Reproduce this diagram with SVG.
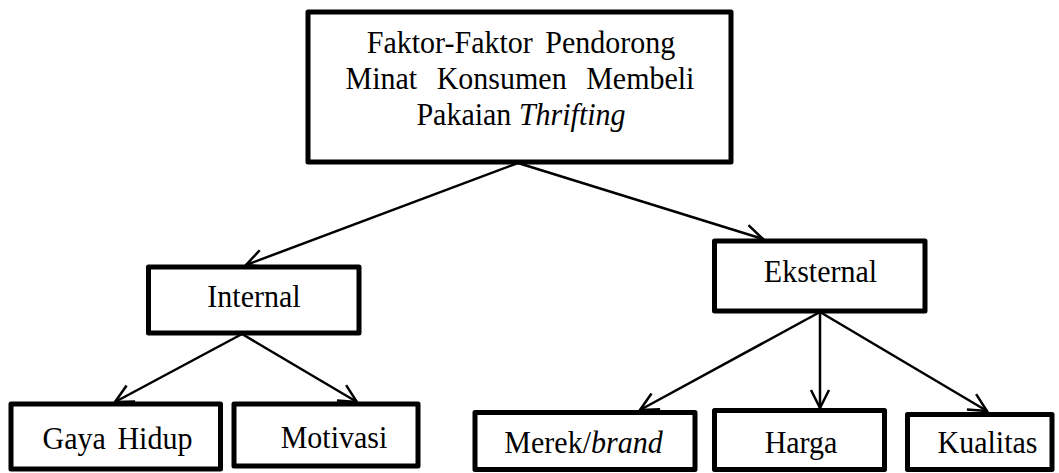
<svg xmlns="http://www.w3.org/2000/svg" width="1059" height="473" viewBox="0 0 1059 473">
  <style>
    .box { fill: #ffffff; stroke: #000000; stroke-width: 5; stroke-linejoin: round; }
    text { font-family: 'Liberation Serif', 'Times New Roman', serif; font-size: 30px; fill: #000000; text-anchor: middle; }
    .it { font-style: italic; }
    .con { fill: none; stroke: #000000; stroke-width: 2.5; marker-end: url(#arr); }
  </style>
  <defs>
    <marker id="arr" markerUnits="userSpaceOnUse" viewBox="-21 -11 23 22" markerWidth="23" markerHeight="22" refX="0" refY="0" orient="auto">
      <path d="M-18,-9 L0,0 L-18,9" fill="none" stroke="#000000" stroke-width="2.5" stroke-linejoin="miter"/>
    </marker>
  </defs>
  <rect width="1059" height="473" fill="#ffffff"/>

  <g id="connectors">
    <line class="con" x1="518" y1="163" x2="246" y2="265"/>
    <line class="con" x1="518" y1="163" x2="763" y2="239"/>
    <line class="con" x1="242" y1="334" x2="115" y2="402"/>
    <line class="con" x1="242" y1="334" x2="357" y2="402"/>
    <line class="con" x1="820" y1="312" x2="640" y2="410"/>
    <line class="con" x1="820" y1="312" x2="820" y2="408"/>
    <line class="con" x1="820" y1="312" x2="987" y2="411"/>
  </g>

  <g id="node-root">
    <rect class="box" x="308" y="12" width="423" height="150"/>
    <text transform="translate(521,53) scale(1,1.08)" word-spacing="5">Faktor-Faktor Pendorong</text>
    <text transform="translate(520,89) scale(1,1.08)" word-spacing="12">Minat Konsumen Membeli</text>
    <text transform="translate(521,125) scale(1,1.08)">Pakaian <tspan class="it">Thrifting</tspan></text>
  </g>

  <g id="node-internal">
    <rect class="box" x="148.5" y="267" width="210.5" height="66"/>
    <text transform="translate(254,307) scale(1,1.08)">Internal</text>
  </g>

  <g id="node-eksternal">
    <rect class="box" x="714.5" y="241" width="210.5" height="70"/>
    <text transform="translate(820.5,282) scale(1,1.08)">Eksternal</text>
  </g>

  <g id="node-gaya-hidup">
    <rect class="box" x="11" y="404" width="209.5" height="65"/>
    <text transform="translate(117.5,449) scale(1,1.08)" word-spacing="4">Gaya Hidup</text>
  </g>

  <g id="node-motivasi">
    <rect class="box" x="234" y="404" width="184" height="62"/>
    <text transform="translate(334,448) scale(1,1.08)">Motivasi</text>
  </g>

  <g id="node-merek">
    <rect class="box" x="475" y="412.5" width="220" height="57"/>
    <text transform="translate(583.5,453) scale(1,1.08)">Merek/<tspan class="it">brand</tspan></text>
  </g>

  <g id="node-harga">
    <rect class="box" x="714.5" y="410.5" width="170" height="59"/>
    <text transform="translate(801,453) scale(1,1.08)">Harga</text>
  </g>

  <g id="node-kualitas">
    <rect class="box" x="907.5" y="414.5" width="144.5" height="55"/>
    <text transform="translate(987.5,453) scale(1,1.08)">Kualitas</text>
  </g>
</svg>
